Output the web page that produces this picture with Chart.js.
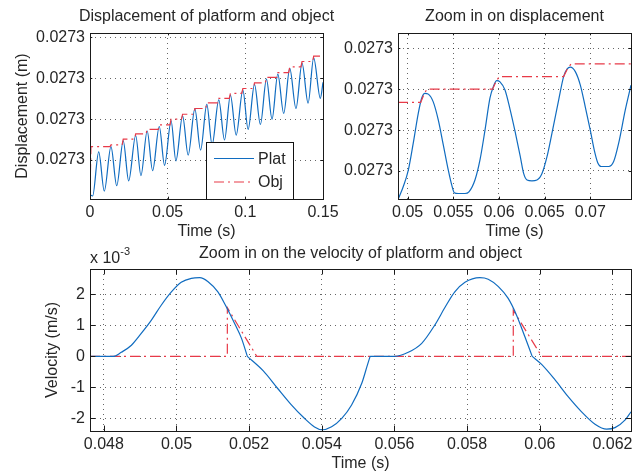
<!DOCTYPE html>
<html>
<head>
<meta charset="utf-8">
<script src="https://cdn.jsdelivr.net/npm/chart.js@4/dist/chart.umd.min.js"></script>
<style>
  html, body { margin: 0; padding: 0; background: #fff; }
  #fig { position: relative; width: 638px; height: 473px; }
  #fig canvas { position: absolute; left: 0; top: 0; }
</style>
</head>
<body>
<div id="fig">
  <canvas id="dispChart" width="638" height="473"></canvas>
  <canvas id="zoomChart" width="638" height="473"></canvas>
  <canvas id="velChart" width="638" height="473"></canvas>
</div>
<script>
// === DISPLACEMENT, WHOLE RUN ===  time in s, displacement above 0.0273 m in nm
const dispTime = [0, 0.0017, 0.0056, 0.0092, 0.0135, 0.0172, 0.0214, 0.0249, 0.0294, 0.0328,
  0.0368, 0.0403, 0.0446, 0.0480, 0.0522, 0.0553, 0.0596, 0.0632, 0.0675, 0.0712,
  0.0752, 0.0786, 0.0829, 0.0866, 0.0904, 0.0941, 0.0984, 0.1018, 0.1059, 0.1097,
  0.1136, 0.1172, 0.1209, 0.1247, 0.1286, 0.1326, 0.1365, 0.1404, 0.1440, 0.1483, 0.15];
const dispPlat = [75, 60, 600, 120, 665, 185, 735, 245, 800, 310,
  855, 370, 910, 435, 980, 490, 1040, 560, 1125, 620,
  1180, 685, 1235, 745, 1295, 805, 1355, 875, 1425, 935,
  1490, 1000, 1550, 1070, 1620, 1130, 1685, 1195, 1750, 1255, 1450];
const dispObjTime = [0, 0.0006, 0.0129, 0.0135, 0.0207, 0.0214, 0.0287, 0.0294, 0.0361, 0.0368,
  0.0439, 0.0446, 0.0515, 0.0522, 0.0589, 0.0596, 0.0668, 0.0675, 0.0745, 0.0752,
  0.0822, 0.0829, 0.0897, 0.0904, 0.0977, 0.0984, 0.1052, 0.1059, 0.1129, 0.1136,
  0.1202, 0.1209, 0.1279, 0.1286, 0.1358, 0.1365, 0.1433, 0.1440, 0.15];
const dispObj = [80, 665, 665, 685, 685, 755, 755, 820, 820, 875,
  875, 930, 930, 1000, 1000, 1060, 1060, 1130, 1130, 1200,
  1200, 1255, 1255, 1315, 1315, 1375, 1375, 1445, 1445, 1510,
  1510, 1570, 1570, 1640, 1640, 1705, 1705, 1770, 1770];
const dispTicksX = [0, 0.05, 0.1, 0.15];
const dispTicksY = [500, 1000, 1500, 2000];

// === ZOOM IN ON DISPLACEMENT ===
const zoomTime = [0.04900, 0.04952, 0.05007, 0.05061, 0.05116, 0.05153, 0.05189, 0.05226, 0.05280, 0.05335,
  0.05390, 0.05445, 0.05482, 0.05510, 0.05554, 0.05628, 0.05671, 0.05737, 0.05792, 0.05847,
  0.05901, 0.05938, 0.05975, 0.06011, 0.06066, 0.06120, 0.06175, 0.06233, 0.06270, 0.06307,
  0.06361, 0.06416, 0.06471, 0.06526, 0.06580, 0.06654, 0.06708, 0.06745, 0.06781, 0.06836,
  0.06891, 0.06945, 0.07000, 0.07048, 0.07084, 0.07120, 0.07202, 0.07256, 0.07311, 0.07383, 0.07446];
const zoomPlat = [466, 524, 604, 736, 882, 956, 980, 976, 938, 850,
  728, 604, 532, 494, 490, 490, 498, 556, 654, 800,
  956, 1012, 1042, 1036, 996, 904, 796, 672, 588, 556,
  552, 556, 588, 670, 784, 948, 1062, 1098, 1108, 1086,
  1020, 914, 800, 694, 638, 622, 622, 646, 736, 898, 1020];
const zoomObjTime = [0.04894, 0.05143, 0.05180, 0.05210, 0.05930, 0.05970, 0.06005, 0.06708, 0.06750, 0.06790, 0.07446];
const zoomObj = [936, 936, 976, 1000, 1000, 1040, 1062, 1062, 1100, 1124, 1124];
const zoomTicksX = [0.05, 0.055, 0.06, 0.065, 0.07];
const zoomTicksY = [600, 800, 1000, 1200];

// === VELOCITY ===  in 1e-3 m/s (null = break the smoothing at a kink)
const velTime = [0.04762, 0.04826, 0.04848, 0.04876, 0.04903, 0.04931, 0.04958, 0.04986, 0.05013, 0.05041,
  0.05064, 0.05087, 0.05114, 0.05137, 0.05160, 0.05179, 0.05195, 0.05195, 0.05195, 0.05239, 0.05278, 0.05315,
  0.05352, 0.05380, 0.05400, 0.05427, 0.05455, 0.05482, 0.05510, 0.05525, 0.05533, 0.05533, 0.05533,
  0.05601, 0.05638, 0.05675, 0.05711, 0.05740, 0.05766, 0.05794, 0.05835, 0.05858, 0.05886, 0.05913, 0.05936,
  0.05959, 0.05979, 0.05979, 0.05979, 0.06005, 0.06042, 0.06078, 0.06115, 0.06152, 0.06184, 0.06207, 0.06235, 0.06251];
const velPlat = [0, 0, 0.13, 0.36, 0.74, 1.17, 1.65, 2.08, 2.39, 2.52,
  2.54, 2.41, 2.08, 1.60, 1.06, 0.58, 0, null, 0, -0.47, -1.03, -1.55,
  -2.0, -2.28, -2.37, -2.27, -2.0, -1.57, -0.87, -0.30, 0, null, 0,
  0, 0.13, 0.42, 1.01, 1.60, 2.08, 2.39, 2.54, 2.49, 2.25, 1.87, 1.33,
  0.63, 0, null, 0, -0.26, -0.76, -1.30, -1.79, -2.19, -2.35, -2.30, -2.05, -1.79];
const velObjTime = [0.04762, 0.05140, 0.05140, 0.05221, 0.05927, 0.05927, 0.06005, 0.06251];
const velObj = [0, 0, 1.57, 0, 0, 1.49, 0, 0];
const velTicksX = [0.048, 0.05, 0.052, 0.054, 0.056, 0.058, 0.06, 0.062];
const velTicksY = [-2, -1, 0, 1, 2];

const figFont = '"Liberation Sans", Arial, Helvetica, sans-serif';
const inkColor = '#262626';
const gridColor = 'rgba(0,0,0,0.6)';
const platColor = 'rgb(16,108,192)';
const objColor = 'rgb(232,58,72)';
const objDash = [10, 4, 2, 4];

const toPoints = (xs, ys) => xs.map((x, i) => ({ x, y: ys[i] }));
const fmtTime = v => String(+v.toFixed(4));
const fmtDisp = v => (0.0273 + v * 1e-9).toFixed(4);

// box, inward ticks, titles and legend the MATLAB way
const matlabFrame = {
  id: 'matlabFrame',
  afterDatasetsDraw(chart, args, opts) {
    const { ctx, chartArea: a, scales } = chart;
    const cx = (a.left + a.right) / 2;
    ctx.save();

    if (opts.legend) {
      const w = 87, h = 57;
      const lx = a.right - 30 - w, ly = a.bottom - h;
      ctx.fillStyle = '#fff';
      ctx.fillRect(lx, ly, w, h);
      ctx.strokeStyle = '#111';
      ctx.lineWidth = 1;
      ctx.strokeRect(Math.round(lx) + 0.5, Math.round(ly) + 0.5, w, h);
      ctx.font = `16px ${figFont}`;
      ctx.textAlign = 'left';
      ctx.textBaseline = 'middle';
      chart.data.datasets.forEach((ds, i) => {
        const y = ly + 16.5 + i * 23.5;
        ctx.strokeStyle = ds.borderColor;
        ctx.lineWidth = ds.borderWidth;
        ctx.setLineDash(ds.borderDash || []);
        ctx.beginPath();
        ctx.moveTo(lx + 8, y);
        ctx.lineTo(lx + 48, y);
        ctx.stroke();
        ctx.setLineDash([]);
        ctx.fillStyle = inkColor;
        ctx.fillText(ds.label, lx + 52, y + 1);
      });
    }

    ctx.strokeStyle = '#1a1a1a';
    ctx.lineWidth = 1;
    ctx.strokeRect(a.left + 0.5, a.top + 0.5, a.right - a.left, a.bottom - a.top);

    const len = 0.01 * Math.max(a.right - a.left, a.bottom - a.top);
    ctx.beginPath();
    scales.x.ticks.forEach(t => {
      const px = Math.round(scales.x.getPixelForValue(t.value)) + 0.5;
      ctx.moveTo(px, a.bottom); ctx.lineTo(px, a.bottom - len);
      ctx.moveTo(px, a.top); ctx.lineTo(px, a.top + len);
    });
    scales.y.ticks.forEach(t => {
      const py = Math.round(scales.y.getPixelForValue(t.value)) + 0.5;
      ctx.moveTo(a.left, py); ctx.lineTo(a.left + len, py);
      ctx.moveTo(a.right, py); ctx.lineTo(a.right - len, py);
    });
    ctx.stroke();

    ctx.fillStyle = inkColor;
    ctx.font = `16px ${figFont}`;
    ctx.textAlign = 'center';
    ctx.textBaseline = 'alphabetic';
    ctx.fillText(opts.title, cx, opts.titleY);
    ctx.fillText(opts.xlabel, cx, opts.xlabelY);
    if (opts.ylabel) {
      ctx.save();
      ctx.translate(opts.ylabelX, (a.top + a.bottom) / 2);
      ctx.rotate(-Math.PI / 2);
      ctx.fillText(opts.ylabel, 0, 0);
      ctx.restore();
    }
    if (opts.exponent) {
      ctx.textAlign = 'left';
      const base = 'x 10';
      ctx.fillText(base, a.left, a.top - 6);
      const bw = ctx.measureText(base).width;
      ctx.font = `11px ${figFont}`;
      ctx.fillText(opts.exponent, a.left + bw, a.top - 14);
    }
    ctx.restore();
  }
};

function axis(min, max, ticks, fmt, horizontal) {
  return {
    type: 'linear',
    min, max,
    afterBuildTicks: s => { s.ticks = ticks.map(value => ({ value })); },
    afterFit: s => { if (horizontal) s.height = 30; else s.width = 60; },
    grid: { color: gridColor, lineWidth: 1, drawTicks: false },
    border: { display: false, dash: [1, 4] },
    ticks: {
      autoSkip: false, maxRotation: 0,
      padding: horizontal ? 4 : 5,
      color: inkColor,
      font: { family: figFont, size: 16 },
      callback: v => fmt(v)
    }
  };
}

function subplot(id, o) {
  return new Chart(document.getElementById(id), {
    type: 'line',
    data: {
      datasets: [
        {
          label: 'Plat', data: toPoints(o.platX, o.platY),
          borderColor: platColor, borderWidth: 1.2, pointRadius: 0, fill: false,
          cubicInterpolationMode: 'monotone', tension: 0, spanGaps: false,
          order: o.platOnTop ? 0 : 1
        },
        {
          label: 'Obj', data: toPoints(o.objX, o.objY),
          borderColor: objColor, borderWidth: 1.2, borderDash: objDash, pointRadius: 0, fill: false,
          tension: 0,
          order: o.platOnTop ? 1 : 0
        }
      ]
    },
    options: {
      responsive: false,
      animation: false,
      events: [],
      layout: { padding: o.padding },
      plugins: {
        legend: { display: false },
        tooltip: { enabled: false },
        matlabFrame: o.frame
      },
      scales: {
        x: axis(o.xRange[0], o.xRange[1], o.ticksX, fmtTime, true),
        y: axis(o.yRange[0], o.yRange[1], o.ticksY, o.fmtY, false)
      }
    },
    plugins: [matlabFrame]
  });
}

// chart areas: [90,33]-[323,199], [398,33]-[631,199], [90,269]-[631,431]
subplot('dispChart', {
  platX: dispTime, platY: dispPlat, objX: dispObjTime, objY: dispObj,
  xRange: [0, 0.15], yRange: [23, 2054], ticksX: dispTicksX, ticksY: dispTicksY, fmtY: fmtDisp,
  padding: { left: 30, top: 33, right: 315, bottom: 244 },
  frame: { title: 'Displacement of platform and object', titleY: 21, xlabel: 'Time (s)', xlabelY: 235.5,
           ylabel: 'Displacement (m)', ylabelX: 26.5, legend: true }
});

subplot('zoomChart', {
  platX: zoomTime, platY: zoomPlat, objX: zoomObjTime, objY: zoomObj,
  xRange: [0.04894, 0.07446], yRange: [463, 1275], ticksX: zoomTicksX, ticksY: zoomTicksY, fmtY: fmtDisp,
  padding: { left: 338, top: 33, right: 7, bottom: 244 },
  frame: { title: 'Zoom in on displacement', titleY: 21, xlabel: 'Time (s)', xlabelY: 235.5 }
});

subplot('velChart', {
  platX: velTime, platY: velPlat, objX: velObjTime, objY: velObj, platOnTop: true,
  xRange: [0.04762, 0.06251], yRange: [-2.41, 2.82], ticksX: velTicksX, ticksY: velTicksY, fmtY: v => String(v),
  padding: { left: 30, top: 269, right: 7, bottom: 12 },
  frame: { title: 'Zoom in on the velocity of platform and object', titleY: 257.5, xlabel: 'Time (s)', xlabelY: 468,
           ylabel: 'Velocity (m/s)', ylabelX: 57, exponent: '-3' }
});
</script>
</body>
</html>
